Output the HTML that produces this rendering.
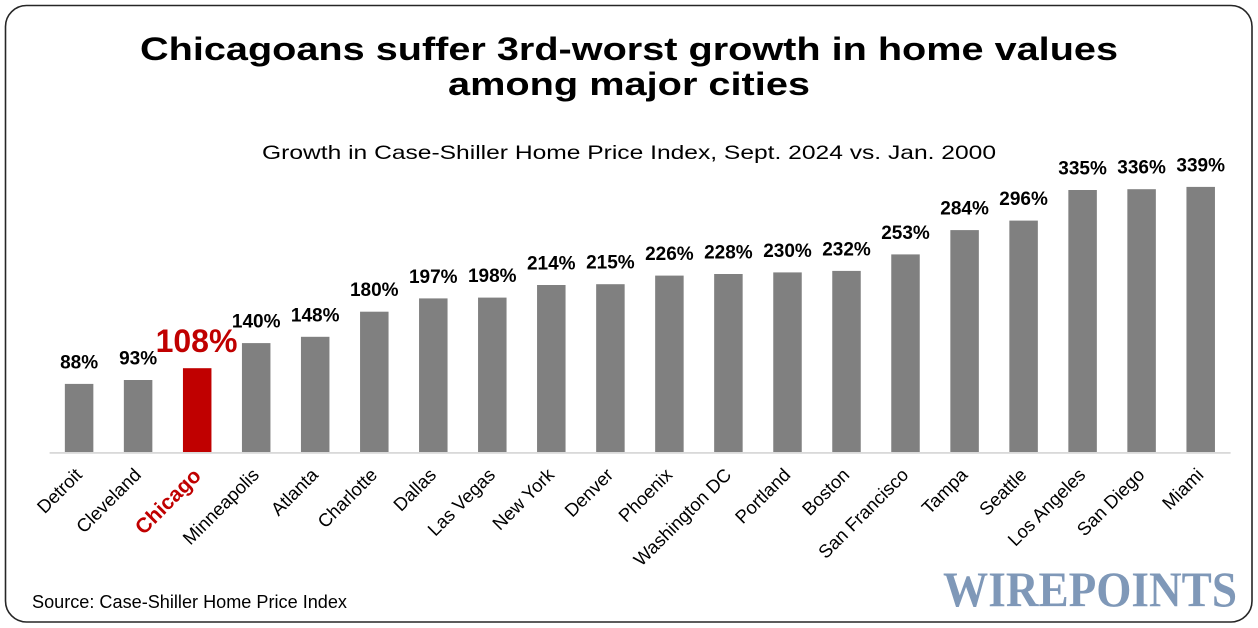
<!DOCTYPE html>
<html>
<head>
<meta charset="utf-8">
<style>
html,body{margin:0;padding:0;background:#fff;}
svg{display:block;}
</style>
</head>
<body>
<svg width="1258" height="628" viewBox="0 0 1258 628" xmlns="http://www.w3.org/2000/svg" font-family="'Liberation Sans', Arial, sans-serif">
<rect x="0" y="0" width="1258" height="628" fill="#fff"/>
<rect x="5.5" y="5.5" width="1246.5" height="616.5" rx="21" ry="21" fill="#fff" stroke="#262626" stroke-width="1.6"/>

<text x="629" y="60" text-anchor="middle" font-size="32" font-weight="bold" fill="#000" textLength="978" lengthAdjust="spacingAndGlyphs">Chicagoans suffer 3rd-worst growth in home values</text>
<text x="629" y="95" text-anchor="middle" font-size="32" font-weight="bold" fill="#000" textLength="362" lengthAdjust="spacingAndGlyphs">among major cities</text>
<text x="629" y="159" text-anchor="middle" font-size="19.5" fill="#000" textLength="734" lengthAdjust="spacingAndGlyphs">Growth in Case-Shiller Home Price Index, Sept. 2024 vs. Jan. 2000</text>

<g fill="#808080">
<rect x="64.85" y="383.9" width="28.5" height="68.1"/>
<rect x="123.85" y="380.0" width="28.5" height="72.0"/>
<rect x="182.95" y="368.2" width="28.5" height="83.8" fill="#c00000"/>
<rect x="241.95" y="343.1" width="28.5" height="108.9"/>
<rect x="300.95" y="336.8" width="28.5" height="115.2"/>
<rect x="360.05" y="311.7" width="28.5" height="140.3"/>
<rect x="419.05" y="298.4" width="28.5" height="153.6"/>
<rect x="478.05" y="297.6" width="28.5" height="154.4"/>
<rect x="537.05" y="285.0" width="28.5" height="167.0"/>
<rect x="596.15" y="284.2" width="28.5" height="167.8"/>
<rect x="655.15" y="275.6" width="28.5" height="176.4"/>
<rect x="714.15" y="274.0" width="28.5" height="178.0"/>
<rect x="773.25" y="272.4" width="28.5" height="179.6"/>
<rect x="832.25" y="270.9" width="28.5" height="181.1"/>
<rect x="891.25" y="254.4" width="28.5" height="197.6"/>
<rect x="950.35" y="230.1" width="28.5" height="221.9"/>
<rect x="1009.35" y="220.6" width="28.5" height="231.4"/>
<rect x="1068.35" y="190.0" width="28.5" height="262.0"/>
<rect x="1127.35" y="189.2" width="28.5" height="262.8"/>
<rect x="1186.45" y="186.9" width="28.5" height="265.1"/>
</g>
<rect x="49.6" y="452" width="1181" height="1.8" fill="#d9d9d9"/>

<g font-size="19" font-weight="bold" fill="#000" text-anchor="middle">
<text x="79.1" y="368.4">88%</text>
<text x="138.1" y="364.5">93%</text>
<text x="256.2" y="327.6">140%</text>
<text x="315.2" y="321.3">148%</text>
<text x="374.3" y="296.2">180%</text>
<text x="433.3" y="282.9">197%</text>
<text x="492.3" y="282.1">198%</text>
<text x="551.3" y="269.5">214%</text>
<text x="610.4" y="268.7">215%</text>
<text x="669.4" y="260.1">226%</text>
<text x="728.4" y="258.5">228%</text>
<text x="787.5" y="256.9">230%</text>
<text x="846.5" y="255.4">232%</text>
<text x="905.5" y="238.9">253%</text>
<text x="964.6" y="214.6">284%</text>
<text x="1023.6" y="205.1">296%</text>
<text x="1082.6" y="174.5">335%</text>
<text x="1141.6" y="173.7">336%</text>
<text x="1200.7" y="171.4">339%</text>
</g>
<text x="196.5" y="352" text-anchor="middle" font-size="32" font-weight="bold" fill="#c00000">108%</text>

<g font-size="18.5" fill="#000" text-anchor="end">
<text transform="translate(83.1,476) rotate(-45)">Detroit</text>
<text transform="translate(142.1,476) rotate(-45)">Cleveland</text>
<text transform="translate(260.2,476) rotate(-45)">Minneapolis</text>
<text transform="translate(319.2,476) rotate(-45)">Atlanta</text>
<text transform="translate(378.3,476) rotate(-45)">Charlotte</text>
<text transform="translate(437.3,476) rotate(-45)">Dallas</text>
<text transform="translate(496.3,476) rotate(-45)">Las Vegas</text>
<text transform="translate(555.3,476) rotate(-45)">New York</text>
<text transform="translate(614.4,476) rotate(-45)">Denver</text>
<text transform="translate(673.4,476) rotate(-45)">Phoenix</text>
<text transform="translate(732.4,476) rotate(-45)">Washington DC</text>
<text transform="translate(791.5,476) rotate(-45)">Portland</text>
<text transform="translate(850.5,476) rotate(-45)">Boston</text>
<text transform="translate(909.5,476) rotate(-45)">San Francisco</text>
<text transform="translate(968.6,476) rotate(-45)">Tampa</text>
<text transform="translate(1027.6,476) rotate(-45)">Seattle</text>
<text transform="translate(1086.6,476) rotate(-45)">Los Angeles</text>
<text transform="translate(1145.6,476) rotate(-45)">San Diego</text>
<text transform="translate(1204.7,476) rotate(-45)">Miami</text>
</g>
<text transform="translate(202.2,477) rotate(-45)" text-anchor="end" font-size="21" font-weight="bold" fill="#c00000">Chicago</text>

<text x="32" y="608" font-size="18" fill="#000" textLength="315" lengthAdjust="spacingAndGlyphs">Source: Case-Shiller Home Price Index</text>

<text x="943" y="606" font-family="'Liberation Serif', 'DejaVu Serif', serif" font-size="50" font-weight="bold" fill="#7f98b8" textLength="294" lengthAdjust="spacingAndGlyphs">WIREPOINTS</text>
</svg>
</body>
</html>
